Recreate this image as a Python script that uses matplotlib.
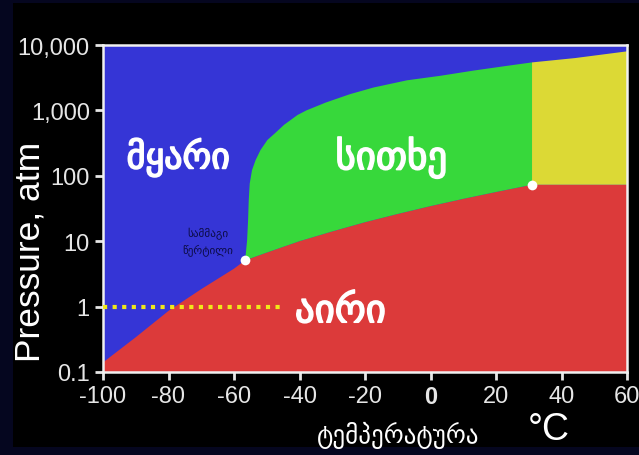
import matplotlib
matplotlib.use("Agg")
import matplotlib.pyplot as plt
import matplotlib.patheffects as pe
from matplotlib.patches import Rectangle

# phase boundary readings (temperature in C, pressure in atm)
sub_T = [-100, -90, -80, -70, -60, -56.6]
sub_p = [0.14, 0.34, 0.86, 1.85, 3.8, 5.1]

vap_T = [-56.6, -50, -40, -30, -20, -10, 0, 10, 20, 31]
vap_p = [5.1, 6.7, 10.0, 14.1, 19.5, 26.1, 34.4, 44.4, 56.5, 73.0]

melt_T = [-56.6, -56.0, -55.7, -55.5, -55.2, -54.5, -53.4, -51.9, -49.8, -47.5,
          -44.7, -40.6, -37.9, -32, -24.6, -17.4, -7.2, 3.1, 13.3, 23.6,
          31, 44.1, 60]
melt_p = [5.1, 10.3, 21, 42, 76, 122, 174, 248, 353, 447,
          603, 851, 1000, 1318, 1770, 2239, 2884, 3388, 4074, 4820,
          5420, 6310, 8000]

triple = (-56.6, 5.1)
critical = (31, 73.0)
crit_idx = melt_T.index(31)

xticks = [-100, -80, -60, -40, -20, 0, 20, 40, 60]
yticks = [0.1, 1, 10, 100, 1000, 10000]
ylabels = ["0.1", "1", "10", "100", "1,000", "10,000"]

blue = "#3535d6"
green = "#37d83b"
yellow = "#dcd935"
red = "#dc3a3a"

fig = plt.figure(figsize=(6.39, 4.56), dpi=100, facecolor="#05061f")
fig.patches.append(Rectangle((13 / 639, 8 / 456), 1, 444 / 456, transform=fig.transFigure,
                             facecolor="black", edgecolor="none", zorder=-10))
ax = fig.add_axes([103 / 639, 83 / 456, 524 / 639, 327 / 456])
ax.set_yscale("log")
ax.set_xlim(-100, 60)
ax.set_ylim(0.1, 10000)
ax.set_facecolor(blue)

# gas region
gx = [-100] + sub_T + vap_T[1:] + [60, 60]
gy = [0.1] + sub_p + vap_p[1:] + [73.0, 0.1]
ax.fill(gx, gy, color=red, lw=0)

# liquid region
lx = vap_T + melt_T[crit_idx::-1]
ly = vap_p + melt_p[crit_idx::-1]
ax.fill(lx, ly, color=green, lw=0)

# supercritical region
sx = [31, 60] + melt_T[:crit_idx - 1:-1]
sy = [73.0, 73.0] + melt_p[:crit_idx - 1:-1]
ax.fill(sx, sy, color=yellow, lw=0)

ax.plot([-100, -46], [1, 1], color="#f0e81a", lw=3, ls=(0, (1, 1.3)), zorder=5)
ax.plot(*triple, "o", color="white", ms=7, mec="none", zorder=6)
ax.plot(*critical, "o", color="white", ms=7, mec="none", zorder=6)

thick = [pe.withStroke(linewidth=1.2, foreground="white")]
ax.text(-77, 190, "მყარი", color="white", fontsize=26, ha="center", va="center",
        family="DejaVu Sans", path_effects=thick)
ax.text(-12, 190, "სითხე", color="white", fontsize=28, ha="center", va="center",
        family="DejaVu Sans", path_effects=thick)
ax.text(-27.5, 0.85, "აირი", color="white", fontsize=28, ha="center", va="center",
        family="DejaVu Sans", path_effects=thick)
ax.text(-68, 10, "სამმაგი\nწერტილი", color="#0c0c45", fontsize=8, ha="center",
        va="center", family="DejaVu Sans", linespacing=1.4)

ax.set_xticks(xticks)
ax.set_xticklabels([str(t) for t in xticks])
ax.set_yticks(yticks)
ax.set_yticklabels(ylabels)
ax.yaxis.set_minor_locator(matplotlib.ticker.NullLocator())
for lab in ax.get_xticklabels():
    if lab.get_text() == "0":
        lab.set_fontweight("bold")
ax.tick_params(colors="#e6e6e6", labelsize=17, length=6, width=2, direction="out")
for lab in ax.get_xticklabels() + ax.get_yticklabels():
    lab.set_family("Liberation Sans")
for s in ax.spines.values():
    s.set_color("#f0f0f0")
    s.set_linewidth(1.8)

fig.text(30 / 639, 1 - 252 / 456, "Pressure, atm", rotation=90, color="white",
         fontsize=25.5, ha="center", va="center", family="Liberation Sans")
fig.text(398 / 639, 1 - 435 / 456, "ტემპერატურა", color="white", fontsize=18,
         ha="center", va="center", family="DejaVu Sans")
fig.text(549 / 639, 1 - 430 / 456, "°C", color="white", fontsize=27,
         ha="center", va="center", family="Liberation Sans")

fig.savefig("out.png", dpi=100, facecolor=fig.get_facecolor())
